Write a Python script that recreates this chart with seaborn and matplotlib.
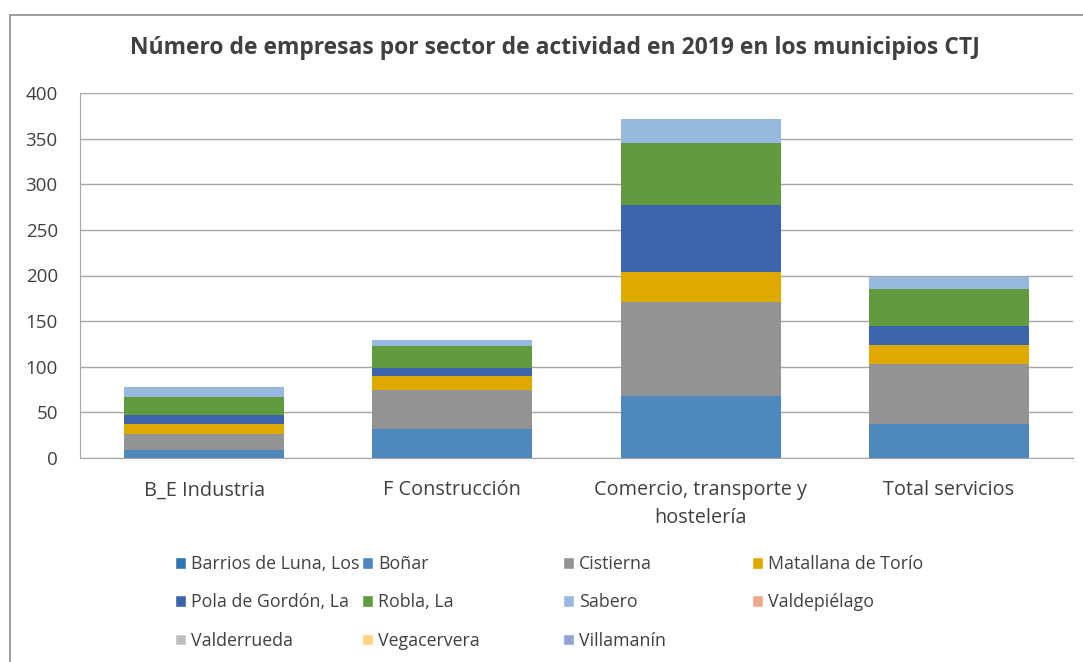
import matplotlib
matplotlib.use("Agg")
import matplotlib.pyplot as plt
import seaborn as sns
import numpy as np
from matplotlib.patches import Patch, Rectangle

# datos
sectores = ["B_E Industria", "F Construcción", "Comercio, transporte y\nhostelería", "Total servicios"]
municipios = ["Barrios de Luna, Los", "Boñar", "Cistierna", "Matallana de Torío",
              "Pola de Gordón, La", "Robla, La", "Sabero", "Valdepiélago",
              "Valderrueda", "Vegacervera", "Villamanín"]
barrios = [0, 0, 0, 0]
bonar = [9, 32, 68, 37]
cistierna = [17, 42, 103, 66]
matallana = [11, 16, 33, 21]
pola = [10, 9, 73, 21]
robla = [20, 24, 68, 40]
sabero = [11, 6, 26, 13]
valdepielago = [0, 0, 0, 0]
valderrueda = [0, 0, 0, 0]
vegacervera = [0, 0, 0, 0]
villamanin = [0, 0, 0, 0]
series = [barrios, bonar, cistierna, matallana, pola, robla, sabero,
          valdepielago, valderrueda, vegacervera, villamanin]
colores = ["#2E75B6", "#4F88BD", "#939393", "#E0A900", "#3B64AD", "#629A3F",
           "#97B9E0", "#F1A78A", "#BFBFBF", "#FFD47F", "#8FA4D3"]

sns.set_style("white")
plt.rcParams['font.family'] = ['Open Sans', 'DejaVu Sans']
texto = '#404040'

fig = plt.figure(figsize=(10.83, 6.62), dpi=100)
ax = fig.add_axes([80 / 1083, 1 - 458 / 662, 993 / 1083, 365 / 662])

base = np.zeros(len(sectores))
for nombre, vals, c in zip(municipios, series, colores):
    sns.barplot(x=sectores, y=vals, bottom=base, color=c, width=0.645,
                saturation=1, linewidth=0, ax=ax, label=nombre)
    base = base + np.array(vals)

ax.set_xlim(-0.5, 3.5)
ax.set_ylim(0, 400)
ax.set_yticks(range(0, 401, 50))
ax.yaxis.grid(True, color='#a6a6a6', lw=1)
ax.set_axisbelow(True)
for s in ['top', 'right']:
    ax.spines[s].set_visible(False)
ax.spines['left'].set_color('#a6a6a6')
ax.spines['bottom'].set_color('#a6a6a6')
ax.tick_params(axis='y', length=0, labelsize=13.5, labelcolor=texto, pad=16)
ax.tick_params(axis='x', length=0, labelsize=14.3, labelcolor=texto, pad=16)
for lab in ax.get_xticklabels():
    lab.set_linespacing(1.5)
ax.set_xlabel("")
ax.set_ylabel("")
if ax.get_legend():
    ax.get_legend().remove()

fig.text(555 / 1083, 1 - 48 / 662,
         "Número de empresas por sector de actividad en 2019 en los municipios CTJ",
         ha='center', va='center', fontsize=16.5, fontweight='bold', color=texto)

# marco del grafico
fig.patches.append(Rectangle((9.5 / 1083, -0.1), 1.2, 1.1 - 14.5 / 662,
                             transform=fig.transFigure, fill=False,
                             edgecolor='#8c8c8c', lw=1.2))

# leyenda en filas de 4, una leyenda por columna
xs = [175, 362, 563, 752]
for col in range(4):
    idx = list(range(col, len(municipios), 4))
    handles = [Patch(facecolor=colores[i]) for i in idx]
    labels = [municipios[i] for i in idx]
    leg = fig.legend(handles, labels, loc='upper left',
                     bbox_to_anchor=(xs[col] / 1083, 1 - 555 / 662),
                     frameon=False, fontsize=12.8, borderpad=0, borderaxespad=0,
                     handlelength=0.62, handleheight=0.62, handletextpad=0.3,
                     labelspacing=1.15, labelcolor=texto)

fig.savefig("out.png", dpi=100)
